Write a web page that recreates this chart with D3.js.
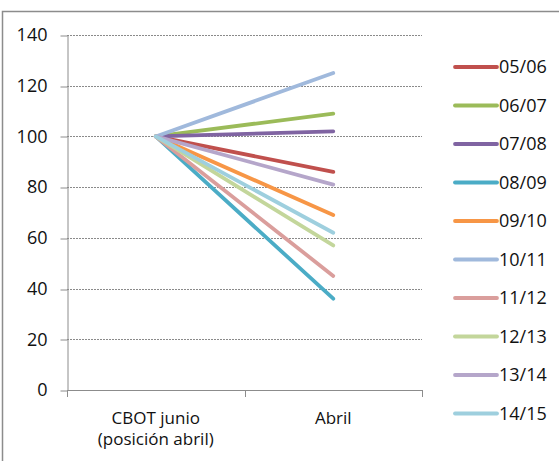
<!DOCTYPE html>
<html>
<head>
<meta charset="utf-8">
<script src="https://cdn.jsdelivr.net/npm/d3@7"></script>
<style>
  html, body { margin: 0; padding: 0; background: #fff; }
  svg { display: block; }
  text { font-family: "Open Sans", Lato, sans-serif; fill: #111; }
</style>
</head>
<body>
<svg id="chart" width="559" height="461"></svg>
<script>
// Categories on the x axis (second line of a label after "\n")
const categories = ["CBOT junio\n(posición abril)", "Abril"];
// Campaigns, in legend order
const seasons = ["05/06", "06/07", "07/08", "08/09", "09/10", "10/11", "11/12", "12/13", "13/14", "14/15"];
// Index values: start (base 100) and April position
const startValues = [100, 100, 100, 100, 100, 100, 100, 100, 100, 100];
const aprilValues = [86, 109, 102, 36, 69, 125, 45, 57, 81, 62];
const colors = ["#C0504D", "#9BBB59", "#8064A2", "#4BACC6", "#F79646",
                "#A0B9DC", "#DA9E9C", "#C3D69B", "#B5A6CA", "#9ECFDE"];
const yTicks = [0, 20, 40, 60, 80, 100, 120, 140];

const FONT = "'Open Sans', Lato, sans-serif";
const svg = d3.select("#chart");
const plot = { left: 67, right: 422, top: 35, bottom: 390 };

// Outer chart frame
svg.append("rect")
  .attr("x", 2.5).attr("y", 11.5)
  .attr("width", 600).attr("height", 500)
  .attr("fill", "none").attr("stroke", "#8c8c8c").attr("stroke-width", 1.5);

const x = d3.scaleBand().domain(categories).range([plot.left, plot.right]);
const y = d3.scaleLinear().domain([0, 140]).range([plot.bottom, plot.top]);

// Horizontal gridlines
svg.append("g").selectAll("line")
  .data(yTicks.filter(d => d > 0))
  .join("line")
  .attr("x1", plot.left).attr("x2", plot.right)
  .attr("y1", d => Math.round(y(d)) + 0.5).attr("y2", d => Math.round(y(d)) + 0.5)
  .attr("stroke", "#8a8a8a").attr("stroke-width", 1)
  .attr("stroke-dasharray", "2,1");

// Y axis
const yAxis = svg.append("g")
  .attr("transform", `translate(${plot.left + 0.5},0)`)
  .call(d3.axisLeft(y).tickValues(yTicks).tickSize(7).tickSizeOuter(0).tickPadding(13));
yAxis.select(".domain").attr("stroke", "#8c8c8c");
yAxis.selectAll(".tick line").attr("stroke", "#8c8c8c")
  .attr("transform", d => `translate(0,${Math.round(y(d)) + 0.5 - y(d)})`);
yAxis.selectAll(".tick text")
  .style("font-family", FONT)
  .style("font-size", "18px").attr("fill", "#111");

// X axis: baseline with tick marks at category boundaries
const xAxisG = svg.append("g");
xAxisG.append("line")
  .attr("x1", plot.left).attr("x2", plot.right)
  .attr("y1", plot.bottom + 0.5).attr("y2", plot.bottom + 0.5)
  .attr("stroke", "#8c8c8c");
const boundaries = categories.map(c => x(c)).concat([x(categories[categories.length - 1]) + x.bandwidth()]);
xAxisG.selectAll("line.tk")
  .data(boundaries)
  .join("line").attr("class", "tk")
  .attr("x1", d => Math.round(d) + 0.5).attr("x2", d => Math.round(d) + 0.5)
  .attr("y1", plot.bottom).attr("y2", plot.bottom + 7)
  .attr("stroke", "#8c8c8c");
xAxisG.selectAll("text.cat")
  .data(categories)
  .join("text").attr("class", "cat")
  .attr("x", d => x(d) + x.bandwidth() / 2)
  .attr("y", 424)
  .attr("text-anchor", "middle")
  .style("font-size", "17px")
  .each(function (d) {
    const lines = d.split("\n");
    d3.select(this).selectAll("tspan")
      .data(lines)
      .join("tspan")
      .attr("x", x(d) + x.bandwidth() / 2)
      .attr("dy", (l, i) => i === 0 ? 0 : 21)
      .text(l => l);
  });

// Series lines
const cx = c => x(c) + x.bandwidth() / 2;
const line = d3.line().x(d => cx(d.cat)).y(d => y(d.v));
const series = seasons.map((s, i) => ({
  name: s, color: colors[i],
  points: [{ cat: categories[0], v: startValues[i] }, { cat: categories[1], v: aprilValues[i] }]
}));
svg.append("g").selectAll("path")
  .data(series)
  .join("path")
  .attr("d", d => line(d.points))
  .attr("fill", "none")
  .attr("stroke", d => d.color)
  .attr("stroke-width", 3.8)
  .attr("stroke-linecap", "round");

// Legend
const legendY = d3.scalePoint().domain(seasons).range([67, 413.5]);
const legend = svg.append("g").selectAll("g")
  .data(series)
  .join("g")
  .attr("transform", d => `translate(0,${legendY(d.name)})`);
legend.append("line")
  .attr("x1", 455).attr("x2", 497).attr("y1", 0).attr("y2", 0)
  .attr("stroke", d => d.color).attr("stroke-width", 3.8)
  .attr("stroke-linecap", "round");
legend.append("text")
  .attr("x", 499).attr("y", 0).attr("dy", "0.35em")
  .style("font-size", "18px")
  .text(d => d.name);
</script>
</body>
</html>
